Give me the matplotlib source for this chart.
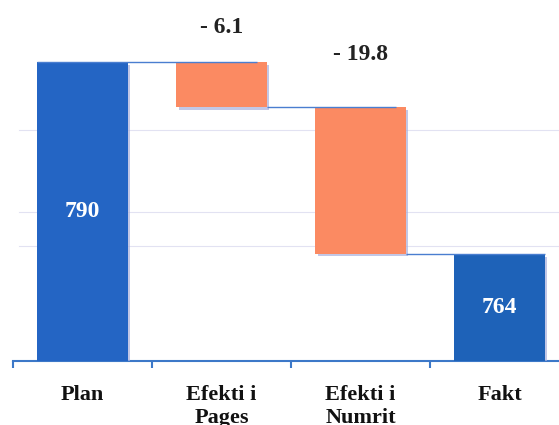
import numpy as np
import matplotlib.pyplot as plt
import matplotlib.patheffects as pe

# data
categories = ['Plan', 'Efekti i\nPages', 'Efekti i\nNumrit', 'Fakt']
plan = 790
effects = [-6.1, -19.8]
fakt = 764
value_labels = ['790', '- 6.1', '- 19.8', '764']

plt.rcParams['font.family'] = ['Liberation Serif', 'DejaVu Serif']
plt.rcParams['font.weight'] = 'bold'

# waterfall geometry
base = 749.6
running = [plan]
for e in effects:
    running.append(running[-1] + e)
bottoms = [base, running[1], running[2], base]
tops = [plan, running[0], running[1], fakt]
heights = [t - b for t, b in zip(tops, bottoms)]
colors = ['#2465c4', '#fb8a62', '#fb8a62', '#1e62b8']

fig = plt.figure(figsize=(5.59, 4.25), dpi=100)
ax = fig.add_axes([13 / 559, 64 / 425, 556 / 559, 361 / 425])

x = np.arange(len(categories))
w = 0.65
shadow = [pe.SimplePatchShadow(offset=(2, -2), shadow_rgbFace='#a9b0dc', alpha=0.7), pe.Normal()]
bars = ax.bar(x, heights, bottom=bottoms, width=w, color=colors, zorder=3)
for b in bars:
    b.set_path_effects(shadow)

# faint gridlines
for gy in [780.8, 769.7, 765.1]:
    ax.axhline(gy, xmin=0.01, color='#e2e2f2', lw=0.8, zorder=1)

# connectors
ax.hlines(running[0], x[0] - w / 2, x[1] + w / 2 - 0.07, color='#4a7ed0', lw=1, zorder=4)
ax.hlines(running[1], x[1] + w / 2, x[2] + w / 2 - 0.07, color='#4a7ed0', lw=1, zorder=4)
ax.hlines(running[2], x[2] + w / 2, x[3] + w / 2, color='#4a7ed0', lw=1, zorder=4)

# labels
ax.text(x[0], (bottoms[0] + tops[0]) / 2, value_labels[0], color='white',
        ha='center', va='center', fontsize=17, zorder=5)
ax.text(x[3], (bottoms[3] + tops[3]) / 2, value_labels[3], color='white',
        ha='center', va='center', fontsize=17, zorder=5)
ax.annotate(value_labels[1], (x[1], tops[1]), xytext=(0, 25), textcoords='offset points',
            ha='center', va='center', fontsize=17, color='#222222')
ax.annotate(value_labels[2], (x[2], tops[2]), xytext=(0, 38), textcoords='offset points',
            ha='center', va='center', fontsize=17, color='#222222')

ax.set_xlim(-0.5, 3.5)
ax.set_ylim(base, base + 361 / 7.4)
ax.set_yticks([])
ax.set_xticks(x)
ax.set_xticklabels(categories, fontsize=16, linespacing=1.2, color='#111111')
ax.set_xticks([-0.5, 0.5, 1.5, 2.5, 3.5], minor=True)
ax.tick_params(axis='x', which='major', length=0, pad=17)
ax.tick_params(axis='x', which='minor', length=5, width=1.5, color='#3c78c8', direction='out')
for s in ['left', 'right', 'top']:
    ax.spines[s].set_visible(False)
ax.spines['bottom'].set_color('#3c78c8')
ax.spines['bottom'].set_linewidth(1.5)

fig.savefig('out.png', dpi=100)
